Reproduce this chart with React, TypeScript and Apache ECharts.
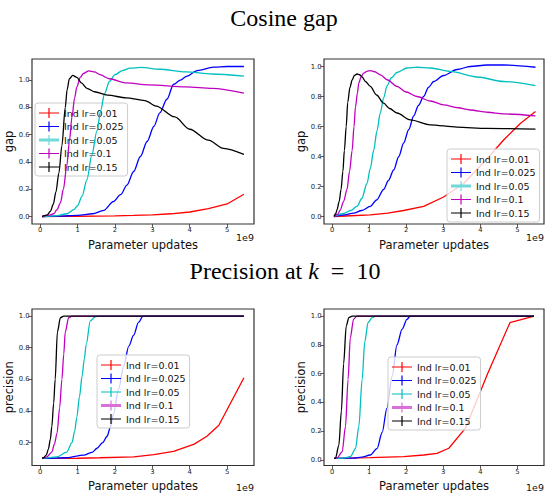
import React, { useEffect, useRef } from 'react';
import * as echarts from 'echarts';

const seriesNames = ['Ind lr=0.01', 'Ind lr=0.025', 'Ind lr=0.05', 'Ind lr=0.1', 'Ind lr=0.15'];
const seriesColors = ['#ff0000', '#0000ff', '#00bfbf', '#bf00bf', '#000000'];
const xTicks = [0, 1, 2, 3, 4, 5];
const gapTicks = [0, 0.2, 0.4, 0.6, 0.8, 1.0];
const precTicksA = [0.2, 0.4, 0.6, 0.8, 1.0];
const precTicksB = [0, 0.2, 0.4, 0.6, 0.8, 1.0];

// ---- Cosine gap, left panel ----
const gapA_001 = [[0.05, 0], [0.5, 0.001], [1, 0.002], [1.5, 0.003], [2, 0.005], [2.5, 0.008], [3, 0.012], [3.5, 0.02], [4, 0.033], [4.5, 0.058], [5, 0.092], [5.45, 0.163]];
const gapA_0025 = [[0.05, 0], [0.5, 0.003], [1, 0.008], [1.4, 0.02], [1.7, 0.045], [1.96, 0.11], [2.15, 0.16], [2.32, 0.23], [2.5, 0.33], [2.68, 0.44], [2.86, 0.55], [3.04, 0.66], [3.2, 0.76], [3.39, 0.86], [3.57, 0.97], [3.75, 1.0], [3.93, 1.03], [4.2, 1.07], [4.64, 1.095], [5, 1.1], [5.45, 1.1]];
const gapA_005 = [[0.05, 0], [0.4, 0.005], [0.71, 0.02], [0.9, 0.05], [1.0, 0.08], [1.12, 0.15], [1.25, 0.27], [1.38, 0.45], [1.52, 0.63], [1.62, 0.78], [1.72, 0.9], [1.85, 0.99], [2.0, 1.04], [2.2, 1.07], [2.4, 1.088], [2.7, 1.093], [3.2, 1.08], [3.9, 1.06], [4.6, 1.045], [5.45, 1.03]];
const gapA_01 = [[0.05, 0], [0.25, 0.01], [0.36, 0.02], [0.45, 0.05], [0.54, 0.1], [0.62, 0.2], [0.71, 0.37], [0.78, 0.55], [0.85, 0.73], [0.92, 0.87], [0.98, 0.95], [1.07, 1.02], [1.16, 1.05], [1.3, 1.068], [1.45, 1.06], [1.6, 1.04], [1.85, 1.01], [2.3, 0.98], [2.9, 0.965], [3.9, 0.95], [4.6, 0.94], [5.45, 0.905]];
const gapA_015 = [[0.05, 0], [0.18, 0.01], [0.27, 0.037], [0.35, 0.09], [0.42, 0.18], [0.5, 0.32], [0.58, 0.52], [0.67, 0.8], [0.72, 0.93], [0.78, 1.01], [0.87, 1.035], [0.98, 1.02], [1.1, 0.98], [1.25, 0.94], [1.45, 0.915], [1.8, 0.89], [2.3, 0.87], [2.8, 0.85], [3.1, 0.81], [3.6, 0.73], [4.0, 0.64], [4.5, 0.56], [4.9, 0.5], [5.45, 0.455]];

// ---- Cosine gap, right panel ----
const gapB_001 = [[0.05, 0], [0.5, 0.005], [1.03, 0.011], [1.5, 0.022], [1.93, 0.04], [2.47, 0.067], [3.01, 0.13], [3.55, 0.22], [4.09, 0.36], [4.63, 0.51], [5.08, 0.62], [5.49, 0.7]];
const gapB_0025 = [[0.05, 0], [0.3, 0.01], [0.58, 0.022], [0.8, 0.04], [1.03, 0.067], [1.2, 0.11], [1.39, 0.18], [1.52, 0.24], [1.66, 0.31], [1.8, 0.4], [1.93, 0.49], [2.07, 0.58], [2.2, 0.67], [2.33, 0.74], [2.47, 0.8], [2.6, 0.86], [2.74, 0.9], [3.01, 0.94], [3.37, 0.98], [3.73, 1.0], [4.18, 1.01], [4.63, 1.01], [5.49, 0.995]];
const gapB_005 = [[0.05, 0], [0.31, 0.02], [0.5, 0.04], [0.67, 0.067], [0.8, 0.12], [0.94, 0.22], [1.03, 0.32], [1.12, 0.44], [1.21, 0.57], [1.3, 0.69], [1.39, 0.79], [1.48, 0.87], [1.6, 0.925], [1.75, 0.96], [2.02, 0.99], [2.29, 0.995], [2.65, 0.99], [3.19, 0.967], [3.91, 0.93], [4.63, 0.9], [5.49, 0.873]];
const gapB_01 = [[0.05, 0], [0.15, 0.015], [0.22, 0.044], [0.31, 0.1], [0.4, 0.18], [0.47, 0.3], [0.54, 0.44], [0.59, 0.6], [0.63, 0.73], [0.68, 0.82], [0.72, 0.89], [0.78, 0.93], [0.85, 0.956], [0.94, 0.968], [1.03, 0.973], [1.15, 0.965], [1.3, 0.944], [1.5, 0.91], [1.75, 0.867], [2.0, 0.83], [2.29, 0.8], [2.65, 0.77], [3.01, 0.744], [3.4, 0.725], [3.73, 0.71], [4.2, 0.695], [4.63, 0.684], [5.49, 0.671]];
const gapB_015 = [[0.05, 0], [0.1, 0.02], [0.13, 0.044], [0.19, 0.1], [0.24, 0.18], [0.29, 0.3], [0.33, 0.44], [0.38, 0.6], [0.42, 0.76], [0.48, 0.86], [0.54, 0.91], [0.6, 0.94], [0.67, 0.95], [0.74, 0.945], [0.81, 0.93], [0.9, 0.9], [1.03, 0.867], [1.2, 0.81], [1.39, 0.756], [1.55, 0.72], [1.75, 0.69], [2.11, 0.644], [2.65, 0.611], [3.37, 0.596], [4.18, 0.587], [5.49, 0.582]];

// ---- Precision at k = 10, left panel ----
const precA_001 = [[0.05, 0.1], [1.0, 0.101], [1.6, 0.104], [2.5, 0.11], [3.04, 0.124], [3.57, 0.144], [4.12, 0.19], [4.46, 0.24], [4.78, 0.31], [5.45, 0.61]];
const precA_0025 = [[0.05, 0.1], [0.71, 0.104], [1.16, 0.12], [1.4, 0.14], [1.52, 0.164], [1.67, 0.2], [1.79, 0.24], [1.88, 0.3], [1.96, 0.38], [2.1, 0.54], [2.23, 0.68], [2.37, 0.81], [2.5, 0.88], [2.63, 0.96], [2.75, 1.0], [4.0, 1.0], [5.45, 1.0]];
const precA_005 = [[0.05, 0.1], [0.45, 0.11], [0.71, 0.14], [0.85, 0.2], [0.92, 0.27], [0.98, 0.36], [1.05, 0.49], [1.12, 0.62], [1.18, 0.73], [1.23, 0.82], [1.34, 0.97], [1.47, 0.996], [1.6, 1.0], [5.45, 1.0]];
const precA_01 = [[0.05, 0.1], [0.18, 0.11], [0.31, 0.14], [0.38, 0.19], [0.45, 0.26], [0.52, 0.42], [0.58, 0.6], [0.63, 0.76], [0.67, 0.9], [0.76, 0.99], [0.85, 1.0], [5.45, 1.0]];
const precA_015 = [[0.05, 0.1], [0.09, 0.104], [0.16, 0.12], [0.22, 0.16], [0.27, 0.22], [0.31, 0.3], [0.36, 0.45], [0.4, 0.6], [0.46, 0.9], [0.54, 0.99], [0.63, 1.0], [5.45, 1.0]];

// ---- Precision at k = 10, right panel ----
const precB_001 = [[0.05, 0.01], [1.03, 0.015], [1.93, 0.022], [2.47, 0.033], [2.83, 0.044], [3.15, 0.08], [3.6, 0.22], [4.2, 0.6], [4.8, 0.955], [5.45, 1.0]];
const precB_0025 = [[0.05, 0.01], [0.58, 0.011], [0.8, 0.018], [1.03, 0.033], [1.21, 0.077], [1.35, 0.19], [1.48, 0.36], [1.62, 0.58], [1.75, 0.8], [1.89, 0.91], [2.02, 0.978], [2.11, 1.0], [5.45, 1.0]];
const precB_005 = [[0.05, 0.01], [0.31, 0.011], [0.49, 0.022], [0.63, 0.077], [0.72, 0.23], [0.81, 0.56], [0.88, 0.82], [0.97, 0.956], [1.08, 0.99], [1.17, 1.0], [5.45, 1.0]];
const precB_01 = [[0.05, 0.01], [0.13, 0.011], [0.27, 0.055], [0.36, 0.23], [0.43, 0.56], [0.49, 0.85], [0.58, 0.98], [0.67, 1.0], [5.45, 1.0]];
const precB_015 = [[0.05, 0.01], [0.09, 0.011], [0.18, 0.1], [0.25, 0.34], [0.31, 0.67], [0.38, 0.93], [0.45, 0.99], [0.54, 1.0], [5.45, 1.0]];

const panelSeries = [
  [gapA_001, gapA_0025, gapA_005, gapA_01, gapA_015],
  [gapB_001, gapB_0025, gapB_005, gapB_01, gapB_015],
  [precA_001, precA_0025, precA_005, precA_01, precA_015],
  [precB_001, precB_0025, precB_005, precB_01, precB_015],
];

const panels = [
  { left: 32, top: 59, w: 222, h: 165, ymin: -0.055, ymax: 1.155, yTicks: gapTicks, yName: 'gap', nameGap: 15, lx: 35, ly: 103, thick: 2 },
  { left: 324, top: 59, w: 220, h: 165, ymin: -0.05, ymax: 1.05, yTicks: gapTicks, yName: 'gap', nameGap: 17, lx: 447, ly: 149, thick: 2 },
  { left: 32, top: 309, w: 222, h: 165, ymin: 0.055, ymax: 1.045, yTicks: precTicksA, yName: 'precision', nameGap: 15, lx: 97, ly: 355, thick: 3 },
  { left: 324, top: 309, w: 220, h: 165, ymin: -0.04, ymax: 1.05, yTicks: precTicksB, yName: 'precision', nameGap: 15, lx: 388, ly: 357, thick: 3 },
];

const plusIcon = 'path://M0,4.4 L20,4.4 L20,5.6 L0,5.6 Z M9.4,0 L10.6,0 L10.6,10 L9.4,10 Z';
const thickIcon = 'path://M0,3.5 L20,3.5 L20,6.5 L0,6.5 Z M9.4,0 L10.6,0 L10.6,10 L9.4,10 Z';
const lightColors = ['#ff8080', '#8080ff', '#70dada', '#d970d9', '#808080'];

const tickFont = 'DejaVu Sans';

export default function App() {
  const ref = useRef<HTMLDivElement>(null);
  useEffect(() => {
    if (!ref.current) return;
    const chart = echarts.init(ref.current, undefined, { renderer: 'svg' });
    const option: any = {
      animation: false,
      backgroundColor: '#ffffff',
      grid: panels.map((p) => ({
        left: p.left, top: p.top, width: p.w, height: p.h,
        show: true, borderColor: '#333333', borderWidth: 1.2, backgroundColor: 'transparent',
      })),
      xAxis: panels.map((p, i) => ({
        type: 'value', gridIndex: i, min: -0.22, max: 5.72,
        splitLine: { show: false },
        axisLine: { show: false, onZero: false },
        axisTick: { show: true, customValues: xTicks, length: 3.5, lineStyle: { color: '#333', width: 0.8 } },
        axisLabel: { customValues: xTicks, fontSize: 6.8, color: '#222', margin: 2.5, fontFamily: tickFont },
        name: 'Parameter updates', nameLocation: 'middle', nameGap: 14.5,
        nameTextStyle: { fontSize: 11.5, fontFamily: tickFont, color: '#111' },
      })),
      yAxis: panels.map((p, i) => ({
        type: 'value', gridIndex: i, min: p.ymin, max: p.ymax,
        splitLine: { show: false },
        axisLine: { show: false, onZero: false },
        axisTick: { show: true, customValues: p.yTicks, length: 3.5, lineStyle: { color: '#333', width: 0.8 } },
        axisLabel: {
          customValues: p.yTicks, fontSize: 6.8, color: '#222', margin: 2.5, fontFamily: tickFont,
          formatter: (v: number) => v.toFixed(1),
        },
        name: p.yName, nameLocation: 'middle', nameGap: p.nameGap,
        nameTextStyle: { fontSize: 11.5, fontFamily: tickFont, color: '#111' },
      })),
      legend: panels.map((p) => ({
        orient: 'vertical', left: p.lx, top: p.ly,
        data: seriesNames.map((n, j) => ({
          name: n,
          icon: j === p.thick ? thickIcon : plusIcon,
          itemStyle: { color: j === p.thick ? lightColors[j] : seriesColors[j], borderWidth: 0 },
        })),
        itemWidth: 20, itemHeight: 10, itemGap: 3.5,
        padding: [5, 4, 4, 4],
        backgroundColor: 'rgba(255,255,255,0.8)',
        borderColor: '#cccccc', borderWidth: 1, borderRadius: 3,
        textStyle: { fontSize: 9.5, fontFamily: tickFont, color: '#111', lineHeight: 10 },
        selectedMode: false,
        itemStyle: { borderWidth: 0 },
      })),
      series: panelSeries.flatMap((group, i) =>
        group.map((d, j) => ({
          type: 'line', name: seriesNames[j], xAxisIndex: i, yAxisIndex: i, data: d,
          symbol: 'none', showSymbol: false,
          smooth: j === 0 ? false : 0.3, smoothMonotone: 'x',
          lineStyle: { color: seriesColors[j], width: 1.3 },
          itemStyle: { color: seriesColors[j] },
          z: 2 + j,
        }))
      ),
      graphic: [
        { type: 'text', x: 284, y: 18, style: { text: 'Cosine gap', fontSize: 24, fontFamily: 'Liberation Serif', fill: '#000', align: 'center', verticalAlign: 'middle' } },
        {
          type: 'text', x: 285, y: 271,
          style: {
            text: '{r|Precision at }{i|k}{r|  =  10}', align: 'center', verticalAlign: 'middle', fill: '#000',
            rich: {
              r: { fontSize: 24, fontFamily: 'Liberation Serif', fill: '#000' },
              i: { fontSize: 24, fontFamily: 'Liberation Serif', fontStyle: 'italic', fill: '#000' },
            },
          },
        },
        ...panels.map((p) => ({
          type: 'text', x: p.left + p.w, y: p.top + p.h + 13.5,
          style: { text: '1e9', fontSize: 9.5, fontFamily: tickFont, fill: '#111', align: 'right', verticalAlign: 'middle' },
        })),
      ],
    };
    chart.setOption(option);
    return () => chart.dispose();
  }, []);
  return <div ref={ref} style={{ position: 'fixed', left: 0, top: 0, width: 545, height: 493 }} />;
}
